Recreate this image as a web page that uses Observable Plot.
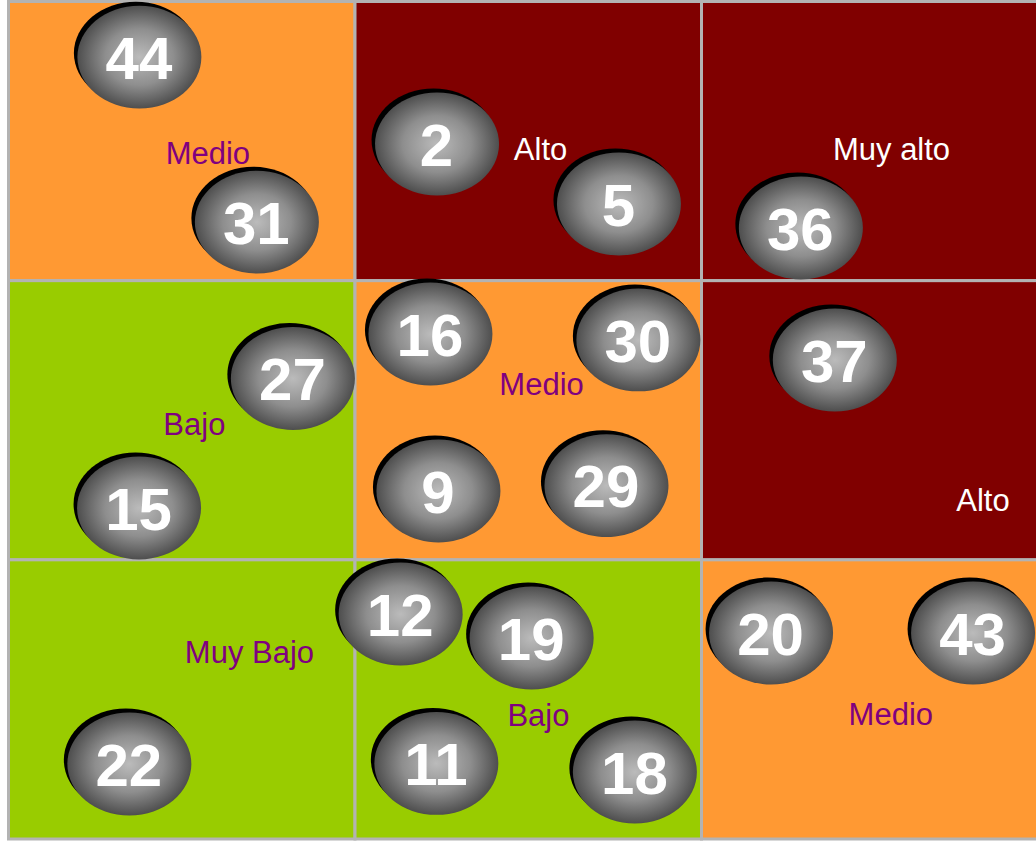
<!DOCTYPE html>
<html>
<head>
<meta charset="utf-8">
<script src="https://cdn.jsdelivr.net/npm/d3@7"></script>
<script src="https://cdn.jsdelivr.net/npm/@observablehq/plot@0.6"></script>
<style>
  html, body { margin: 0; padding: 0; background: #ffffff; }
  #chart { width: 1036px; height: 841px; overflow: hidden; }
</style>
</head>
<body>
<div id="chart"></div>
<script>
// ---- Matrix cells (3 x 3), each cell = 100 units ----
const cellCol = [0, 1, 2, 0, 1, 2, 0, 1, 2];
const cellRow = [0, 0, 0, 1, 1, 1, 2, 2, 2];
const cellLevel = ["Medio", "Alto", "Muy alto", "Bajo", "Medio", "Alto", "Muy Bajo", "Bajo", "Medio"];
const labelX = [57.4, 153.4, 254.7, 53.5, 153.7, 281.1, 69.4, 152.8, 254.5];
const labelY = [54.3, 53.2, 53.2, 151.7, 137.4, 178.6, 233.4, 255.9, 255.6];

// ---- Risk levels and colours ----
const levelNames = ["Muy Bajo", "Bajo", "Medio", "Alto", "Muy alto"];
const levelColors = ["#99cc00", "#99cc00", "#ff9933", "#800000", "#800000"];
const levelTextColors = ["#800080", "#800080", "#800080", "#ffffff", "#ffffff"];

// ---- Risks (numbered bubbles) ----
const riskIds = [44, 31, 2, 5, 36, 16, 30, 27, 37, 15, 9, 29, 12, 19, 20, 43, 22, 11, 18];
const riskX = [37.2, 71.1, 123.1, 175.6, 228.1, 121.2, 181.2, 81.5, 237.9, 37.1, 123.5, 172.0, 112.6, 150.4, 219.5, 277.8, 34.3, 122.9, 180.2];
const riskY = [19.2, 78.3, 50.3, 71.8, 80.4, 118.4, 120.5, 134.3, 127.7, 180.7, 174.6, 172.7, 218.7, 227.3, 225.5, 225.5, 272.4, 272.2, 275.3];

// ---- Build tables ----
const cells = cellCol.map((c, i) => ({
  x1: c * 100, x2: c * 100 + 100,
  y1: cellRow[i] * 100, y2: cellRow[i] * 100 + 100,
  level: cellLevel[i], lx: labelX[i], ly: labelY[i]
}));
const risks = riskIds.map((id, i) => ({id: String(id), x: riskX[i], y: riskY[i]}));

const textColorOf = (lvl) => levelTextColors[levelNames.indexOf(lvl)];

// Elliptical symbol for the bubbles
const ellipse = {
  draw(context, size) {
    const rx = Math.sqrt(size / Math.PI);
    const ry = rx * 0.83;
    const k = 0.5522847498;
    context.moveTo(rx, 0);
    context.bezierCurveTo(rx, k * ry, k * rx, ry, 0, ry);
    context.bezierCurveTo(-k * rx, ry, -rx, k * ry, -rx, 0);
    context.bezierCurveTo(-rx, -k * ry, -k * rx, -ry, 0, -ry);
    context.bezierCurveTo(k * rx, -ry, rx, -k * ry, rx, 0);
    context.closePath();
  }
};

// Gradient definitions
function defsMark() {
  const ns = "http://www.w3.org/2000/svg";
  const defs = document.createElementNS(ns, "defs");
  const g = document.createElementNS(ns, "radialGradient");
  g.setAttribute("id", "bubbleGrad");
  g.setAttribute("cx", "50%"); g.setAttribute("cy", "50%"); g.setAttribute("r", "50%");
  [["0%", "#bbbbbb"], ["55%", "#8e8e8e"], ["100%", "#4e4e4e"]].forEach(([o, c]) => {
    const s = document.createElementNS(ns, "stop");
    s.setAttribute("offset", o); s.setAttribute("stop-color", c);
    g.appendChild(s);
  });
  defs.appendChild(g);
  return defs;
}

const font = "'Liberation Sans', Arial, Helvetica, sans-serif";

const chart = Plot.plot({
  width: 1036,
  height: 841,
  margin: 0,
  style: {background: "#ffffff", fontFamily: font},
  x: {domain: [0, 300], range: [8.5, 1048], axis: null},
  y: {domain: [0, 300], range: [1.5, 839], axis: null},
  color: {domain: levelNames, range: levelColors},
  marks: [
    defsMark,
    Plot.rect(cells, {x1: "x1", x2: "x2", y1: "y1", y2: "y2", fill: "level", stroke: "#b3b3b3", strokeWidth: 3}),
    Plot.text(cells, {x: "lx", y: "ly", text: "level", fill: (d) => textColorOf(d.level), fontSize: 31, fontFamily: font}),
    Plot.dot(risks, {x: "x", y: "y", r: 62, symbol: ellipse, fill: "#000000", dx: -2, dy: -2.5}),
    Plot.dot(risks, {x: "x", y: "y", r: 62, symbol: ellipse, fill: "url(#bubbleGrad)", dx: 1.5, dy: 1.5}),
    Plot.text(risks, {x: "x", y: "y", text: "id", fill: "#ffffff", fontSize: 60, fontWeight: "bold", fontFamily: font, dx: 1, dy: 4})
  ]
});

document.getElementById("chart").appendChild(chart);
</script>
</body>
</html>
